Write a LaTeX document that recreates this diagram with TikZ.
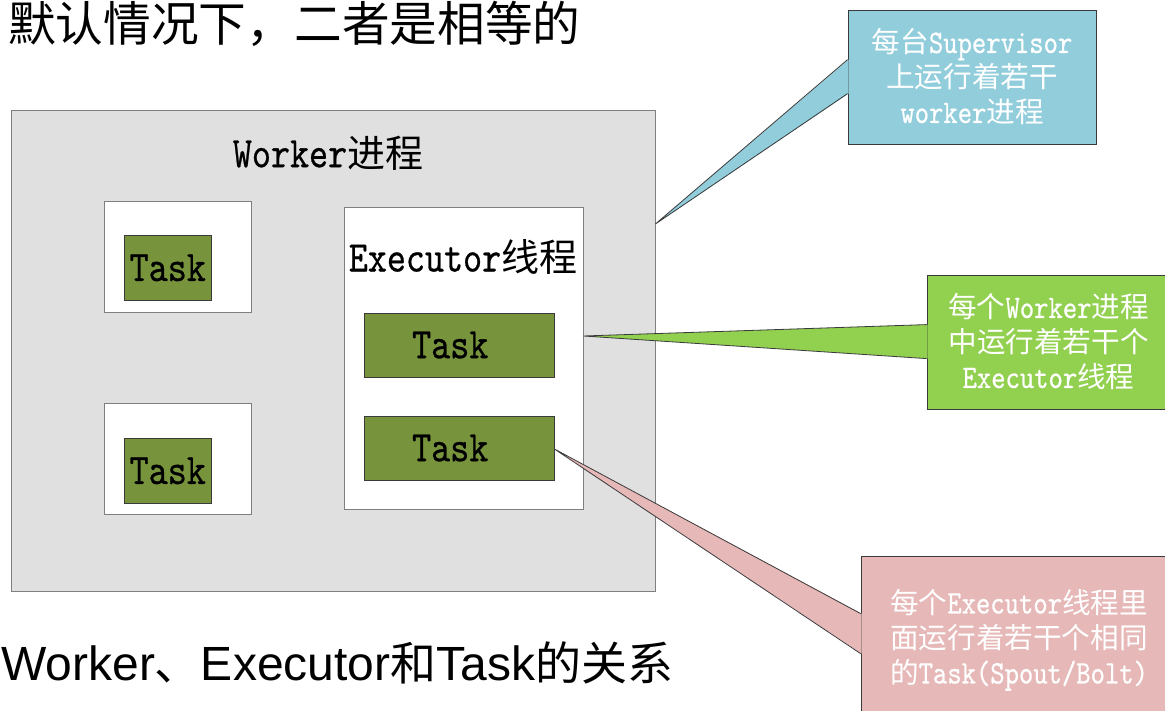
\documentclass[tikz,border=0pt]{standalone}
\usepackage{fontspec}
\setmainfont{Noto Sans CJK SC}
\newfontfamily\latf[Scale=1.15,FakeStretch=0.83,FakeBold=0.6]{lmmono10-regular.otf}
\newfontfamily\arialf{Liberation Sans}
\usetikzlibrary{calc}
\newcommand{\LT}[1]{{\latf #1}}
\newcommand{\AR}[1]{{\arialf\fontsize{48}{50}\selectfont #1}}
\definecolor{outerfill}{HTML}{E0E0E0}
\definecolor{boxline}{HTML}{7F7F7F}
\definecolor{taskgreen}{HTML}{77933C}
\definecolor{taskline}{HTML}{3A3A3A}
\definecolor{cblue}{HTML}{92CDDC}
\definecolor{cgreen}{HTML}{92D050}
\definecolor{cpink}{HTML}{E6B9B8}
\definecolor{cline}{HTML}{3A3A3A}
\begin{document}
\begin{tikzpicture}[x=1pt,y=-1pt,
  outerbox/.style={draw=boxline, fill=outerfill, line width=0.8pt, inner sep=0},
  whitebox/.style={draw=boxline, fill=white, line width=0.8pt, inner sep=0},
  taskbox/.style={draw=taskline, fill=taskgreen, line width=0.8pt, inner sep=0,
    font=\fontsize{38}{40}\selectfont\latf},
  biglabel/.style={inner sep=0, font=\fontsize{38}{40}\selectfont},
  callout/.style={draw=cline, line width=0.8pt, text=white, align=center, inner sep=0,
    font=\fontsize{28.6}{35}\selectfont},
  pointer/.style={draw=cline, line width=0.8pt, line join=miter},
  title/.style={inner sep=0, anchor=west}
]
\useasboundingbox[fill=white] (0,0) rectangle (1165,711);

% top and bottom texts
\node[title, font=\fontsize{47.7}{50}\selectfont] (toptext) at (8,24) {默认情况下，二者是相等的};
\node[title, font=\fontsize{46}{50}\selectfont] (bottomtext) at (1,663)
  {\AR{Worker}、\AR{Executor}和\AR{Task}的关系};

% worker process
\node[outerbox, minimum width=644, minimum height=481] (outer) at (333,350.5) {};
\node[biglabel] (workerlabel) at (328,153) {\LT{Worker}进程};

\node[whitebox, minimum width=147, minimum height=110.5] (w1) at (177.5,256.75) {};
\node[whitebox, minimum width=147, minimum height=110.5] (w2) at (177.5,458.75) {};
\node[taskbox, minimum width=86.5, minimum height=64.5] (t1) at (167.75,267.75) {Task};
\node[taskbox, minimum width=86.5, minimum height=64.5] (t2) at (167.75,470.75) {Task};

\node[whitebox, minimum width=239, minimum height=302] (exec) at (463.5,358) {};
\node[biglabel] (execlabel) at (463,257) {\LT{Executor}线程};
\node[taskbox, minimum width=189.5, minimum height=64] (t3) at (459.25,345) {Task\kern18pt};
\node[taskbox, minimum width=189.5, minimum height=64] (t4) at (459.25,448) {Task\kern18pt};

% callout tips
\coordinate (tipA) at ($(outer.east)+(0,-126.5)$);
\coordinate (tipB) at ($(exec.east)+(0,-22)$);
\coordinate (tipC) at ($(t4.east)+(0,1)$);

% blue callout
\node[callout, fill=cblue, minimum width=248, minimum height=134] (cA) at (972,77)
  {每台\LT{Supervisor}\\上运行着若干\\\LT{worker}进程};
\fill[cblue] ($(cA.north west)+(0.9,50)$) -- (tipA) -- ($(cA.north west)+(0.9,84)$) -- cycle;
\draw[pointer] ($(cA.north west)+(0,50)$) -- (tipA) -- ($(cA.north west)+(0,84)$);

% green callout
\node[callout, fill=cgreen, minimum width=243, minimum height=134] (cB) at (1048.5,342)
  {每个\LT{Worker}进程\\中运行着若干个\\\LT{Executor}线程};
\fill[cgreen] ($(cB.north west)+(0.9,50)$) -- (tipB) -- ($(cB.north west)+(0.9,84)$) -- cycle;
\draw[pointer] ($(cB.north west)+(0,50)$) -- (tipB) -- ($(cB.north west)+(0,84)$);

% pink callout
\node[callout, fill=cpink, minimum width=316, minimum height=168] (cC) at (1019,640)
  {每个\LT{Executor}线程里\\面运行着若干个相同\\的\LT{Task(Spout/Bolt)}};
\fill[cpink] ($(cC.north west)+(0.9,58)$) -- (tipC) -- ($(cC.north west)+(0.9,98)$) -- cycle;
\draw[pointer] ($(cC.north west)+(0,58)$) -- (tipC) -- ($(cC.north west)+(0,98)$);
\end{tikzpicture}
\end{document}
